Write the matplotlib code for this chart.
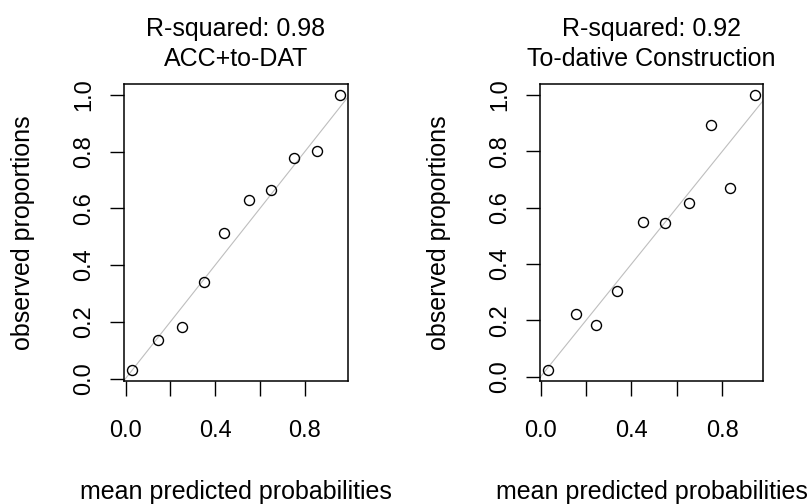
import matplotlib
matplotlib.use("Agg")
import matplotlib.pyplot as plt
import numpy as np

plt.rcParams["font.family"] = ["Liberation Sans", "DejaVu Sans"]

# panel 1: ACC+to-DAT
acc_pred = [0.030, 0.144, 0.250, 0.351, 0.441, 0.553, 0.649, 0.751, 0.855, 0.956]
acc_obs = [0.030, 0.137, 0.182, 0.341, 0.512, 0.630, 0.665, 0.778, 0.802, 1.000]
acc_r2 = 0.98

# panel 2: To-dative Construction
tod_pred = [0.034, 0.154, 0.244, 0.335, 0.449, 0.546, 0.655, 0.750, 0.836, 0.943]
tod_obs = [0.024, 0.223, 0.184, 0.304, 0.550, 0.544, 0.618, 0.892, 0.671, 1.000]
tod_r2 = 0.92

titles = ["ACC+to-DAT", "To-dative Construction"]
x_ticks = [0.0, 0.2, 0.4, 0.6, 0.8]
x_ticklabels = ["0.0", "", "0.4", "", "0.8"]
y_ticks = [0.0, 0.2, 0.4, 0.6, 0.8, 1.0]
y_ticklabels = ["0.0", "0.2", "0.4", "0.6", "0.8", "1.0"]

W, H = 812, 504


def r_lim(vals):
    # R-style axis range: data range padded 4% on each side
    lo, hi = min(vals), max(vals)
    pad = 0.04 * (hi - lo)
    return lo - pad, hi + pad


def panel(fig, box, pred, obs, r2, title):
    left, right, top, bottom = box
    ax = fig.add_axes([left / W, 1 - bottom / H, (right - left) / W, (bottom - top) / H])

    ax.plot([-1, 2], [-1, 2], color="#bebebe", lw=0.8, zorder=1)
    ax.plot(pred, obs, ls="none", marker="o", ms=7.2, mfc="none",
            mec="black", mew=1.0, zorder=2)

    ax.set_xlim(*r_lim(pred))
    ax.set_ylim(*r_lim(obs))

    ax.set_xticks(x_ticks)
    ax.set_xticklabels(x_ticklabels)
    ax.set_yticks(y_ticks)
    ax.set_yticklabels(y_ticklabels, rotation=90, va="center")
    ax.tick_params(axis="x", length=11, width=1.0, pad=17, labelsize=17)
    ax.tick_params(axis="y", length=10, width=1.0, pad=11, labelsize=17)
    for s in ax.spines.values():
        s.set_linewidth(1.1)

    ax.text(0.5, 1.16, f"R-squared: {r2:.2f}", transform=ax.transAxes,
            ha="center", va="baseline", fontsize=18)
    ax.text(0.5, 1.059, title, transform=ax.transAxes,
            ha="center", va="baseline", fontsize=18)

    cx = (left + right) / 2
    fig.text(cx / W, 1 - 499 / H, "mean predicted probabilities",
             ha="center", va="baseline", fontsize=18)
    fig.text((left - 101) / W, 1 - ((top + bottom) / 2) / H, "observed proportions",
             ha="center", va="center", rotation=90, fontsize=18)
    return ax


fig = plt.figure(figsize=(W / 100, H / 100), dpi=100)
panel(fig, (124, 348, 84, 381), acc_pred, acc_obs, acc_r2, titles[0])
panel(fig, (540, 763, 84, 381), tod_pred, tod_obs, tod_r2, titles[1])

fig.savefig("out.png", dpi=100)
